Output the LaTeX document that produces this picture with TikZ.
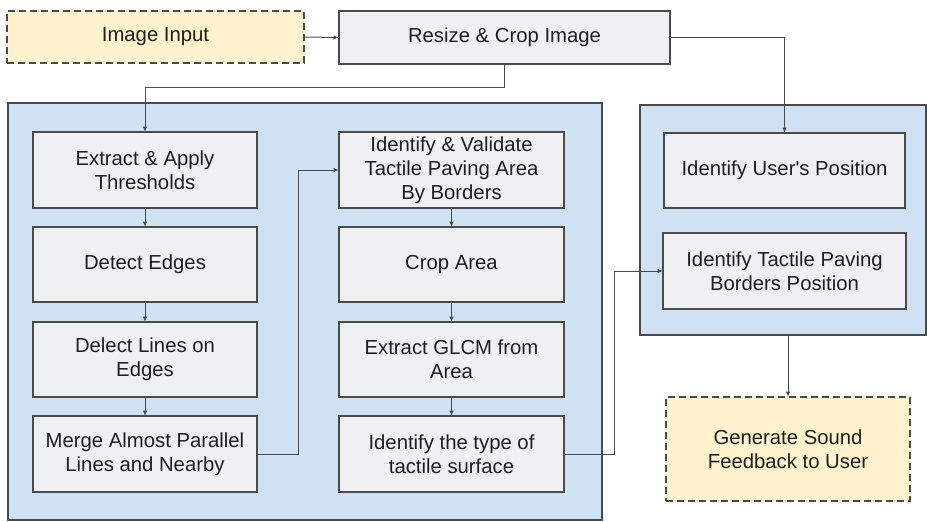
\documentclass[tikz,border=0pt]{standalone}
\usepackage{fontspec}
\setmainfont{Liberation Sans}
\newfontfamily\straightq{Liberation Sans}[Ligatures=TeXOff]
\usetikzlibrary{arrows.meta}
\definecolor{panelblue}{HTML}{CFE2F3}
\definecolor{boxgray}{HTML}{EFF0F2}
\definecolor{inyellow}{HTML}{FFF2CC}
\definecolor{edgegray}{HTML}{4A4A4A}
\definecolor{txt}{HTML}{1E1E1E}
\begin{document}
\begin{tikzpicture}[x=1pt,y=-1pt,
  every node/.style={inner sep=0pt, outer sep=0pt},
  stepbox/.style={draw=edgegray, line width=1.1pt, fill=boxgray, align=center,
    text=txt, font=\fontsize{20.3}{24}\selectfont},
  iobox/.style={stepbox, fill=inyellow, line width=2.2pt, dash pattern=on 7pt off 4pt},
  panel/.style={draw=edgegray, line width=1.1pt, fill=panelblue},
  conn/.style={draw=edgegray, line width=1pt, -{Latex[length=5.5pt,width=4.5pt]}}
]
\useasboundingbox (0,0) rectangle (927,522);
% panels
\node[panel, minimum width=594pt, minimum height=417pt] (lp) at (305,311.5) {};
\node[panel, minimum width=286pt, minimum height=230pt] (rp) at (783,220) {};
% top row
\node[iobox, minimum width=297pt, minimum height=52pt] (inp) at (155.5,37) {Image Input};
\node[stepbox, minimum width=331pt, minimum height=53pt] (rsz) at (504.5,37.5) {Resize \& Crop Image};
% left column
\node[stepbox, minimum width=224pt, minimum height=76pt] (e1) at (145,170) {Extract \& Apply\\Thresholds};
\node[stepbox, minimum width=224pt, minimum height=75pt] (e2) at (145,264.5) {Detect Edges};
\node[stepbox, minimum width=224pt, minimum height=75pt] (e3) at (145,359.5) {Delect Lines on\\Edges};
\node[stepbox, minimum width=224pt, minimum height=76pt] (e4) at (145,454) {Merge Almost Parallel\\Lines and Nearby};
% middle column
\node[stepbox, minimum width=225pt, minimum height=76pt] (m1) at (451.5,170) {Identify \& Validate\\Tactile Paving Area\\By Borders};
\node[stepbox, minimum width=225pt, minimum height=75pt] (m2) at (451.5,264.5) {Crop Area};
\node[stepbox, minimum width=225pt, minimum height=75pt] (m3) at (451.5,359.5) {Extract GLCM from\\Area};
\node[stepbox, minimum width=225pt, minimum height=76pt] (m4) at (451.5,454) {Identify the type of\\tactile surface};
% right panel
\node[stepbox, minimum width=241pt, minimum height=75pt] (r1) at (784.5,170.5) {Identify User{\straightq'}s Position};
\node[stepbox, minimum width=243pt, minimum height=76pt] (r2) at (784.5,271) {Identify Tactile Paving\\Borders Position};
% output
\node[iobox, minimum width=244pt, minimum height=104pt] (gen) at (788,449) {Generate Sound\\Feedback to User};
% connectors
\draw[conn] (inp.east) -- (rsz.west);
\draw[conn] (rsz.south) -- ++(0,23) -| (e1.north);
\draw[conn] (rsz.east) -| (r1.north);
\draw[conn] (e1) -- (e2);
\draw[conn] (e2) -- (e3);
\draw[conn] (e3) -- (e4);
\draw[conn] (m1) -- (m2);
\draw[conn] (m2) -- (m3);
\draw[conn] (m3) -- (m4);
\draw[conn] (e4.east) -- ++(41,0) |- (m1.west);
\draw[conn] (m4.east) -- ++(50,0) |- (r2.west);
\draw[conn] (rp.south -| gen.north) -- (gen.north);
\end{tikzpicture}
\end{document}
